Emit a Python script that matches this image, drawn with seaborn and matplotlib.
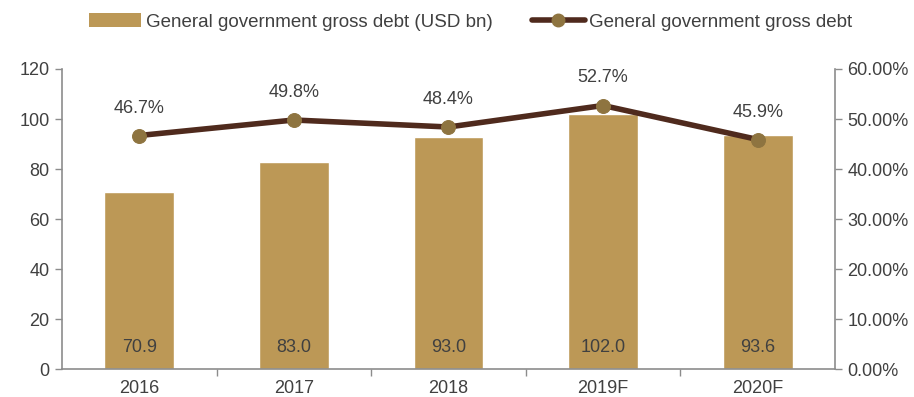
import matplotlib
matplotlib.use("Agg")
import matplotlib.pyplot as plt
import seaborn as sns
import pandas as pd
from matplotlib.lines import Line2D
from matplotlib.patches import Patch
from matplotlib.ticker import FixedLocator, NullFormatter

years = ["2016", "2017", "2018", "2019F", "2020F"]
debt_usd_bn = [70.9, 83.0, 93.0, 102.0, 93.6]
debt_pct_gdp = [46.7, 49.8, 48.4, 52.7, 45.9]
left_ticks = [0, 20, 40, 60, 80, 100, 120]
right_ticks = [0, 10, 20, 30, 40, 50, 60]

bar_color = "#BC9856"
line_color = "#4F2A1D"
marker_color = "#8E7440"
text_color = "#404040"
axis_color = "#8C8C8C"
fs = 13

sns.set_theme(style="white")
plt.rcParams["font.family"] = ["Liberation Sans", "DejaVu Sans"]

df = pd.DataFrame({"year": years, "usd": debt_usd_bn, "pct": debt_pct_gdp})

fig = plt.figure(figsize=(9.14, 3.97), dpi=100)
ax = fig.add_axes([0.0678, 0.0705, 0.8458, 0.7557])

sns.barplot(data=df, x="year", y="usd", color=bar_color, width=0.45,
            saturation=1, ax=ax)
ax.set_xlim(-0.5, 4.5)
ax.set_ylim(0, 120)
ax.set_yticks(left_ticks)
ax.set_xlabel("")
ax.set_ylabel("")

ax2 = ax.twinx()
sns.lineplot(x=list(range(len(years))), y=debt_pct_gdp, color=line_color,
             linewidth=4, marker="o", markersize=10,
             markerfacecolor=marker_color, markeredgecolor=marker_color,
             ax=ax2)
ax2.set_ylim(0, 60)
ax2.set_yticks(right_ticks)
ax2.set_yticklabels([f"{t:.2f}%" for t in right_ticks])

# value labels
for i, v in enumerate(debt_usd_bn):
    ax.text(i, 8.5, f"{v:.1f}", ha="center", va="center",
            fontsize=fs, color=text_color)
for i, v in enumerate(debt_pct_gdp):
    ax2.text(i, v + 5.5, f"{v:.1f}%", ha="center", va="center",
             fontsize=fs, color=text_color)

# spines and ticks
for a in (ax, ax2):
    for s in a.spines.values():
        s.set_visible(False)
ax.spines["left"].set_visible(True)
ax.spines["left"].set_color(axis_color)
ax.spines["bottom"].set_visible(True)
ax.spines["bottom"].set_color(axis_color)
ax2.spines["right"].set_visible(True)
ax2.spines["right"].set_color(axis_color)
for s in (ax.spines["left"], ax.spines["bottom"], ax2.spines["right"]):
    s.set_linewidth(1.2)

ax.tick_params(axis="y", left=True, length=5, width=1, color=axis_color,
               labelsize=fs, labelcolor=text_color, pad=4)
ax.tick_params(axis="x", bottom=False, length=0, labelsize=fs,
               labelcolor=text_color, pad=8)
ax.xaxis.set_minor_locator(FixedLocator([0.5, 1.5, 2.5, 3.5]))
ax.xaxis.set_minor_formatter(NullFormatter())
ax.tick_params(axis="x", which="minor", bottom=True, length=5, width=1,
               color=axis_color)
ax2.tick_params(axis="y", right=True, length=5, width=1, color=axis_color,
                labelsize=fs, labelcolor=text_color, pad=4)
ax.grid(False)
ax2.grid(False)

handles = [
    Patch(facecolor=bar_color, edgecolor="none",
          label="General government gross debt (USD bn)"),
    Line2D([0], [0], color=line_color, linewidth=4, marker="o", markersize=9,
           markerfacecolor=marker_color, markeredgecolor=marker_color,
           label="General government gross debt"),
]
fig.legend(handles=handles, loc="center", bbox_to_anchor=(0.515, 0.945),
           ncol=2, frameon=False, fontsize=13.5, labelcolor=text_color,
           handlelength=2.8, handletextpad=0.25, columnspacing=2.1,
           handleheight=0.75)

fig.savefig("out.png", dpi=100)
